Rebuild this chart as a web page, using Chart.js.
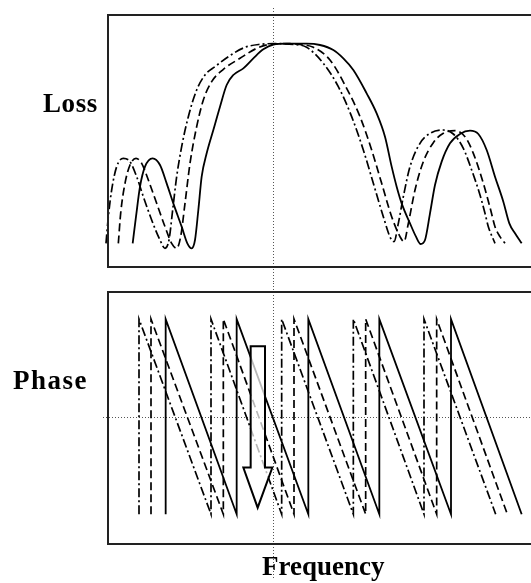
<!DOCTYPE html>
<html>
<head>
<meta charset="utf-8">
<script src="https://cdn.jsdelivr.net/npm/chart.js@4/dist/chart.umd.min.js"></script>
<style>
  html, body { margin: 0; padding: 0; background: #fff; }
  body { width: 531px; height: 583px; overflow: hidden; position: relative; }
  canvas { position: absolute; left: 0; }
  #cLoss { top: 0; }
  #cPhase { top: 283px; }
  .lbl { position: absolute; font-family: "Liberation Serif", "Times New Roman", serif; font-weight: bold;
         font-size: 27px; line-height: 27px; color: #000; white-space: nowrap; z-index: 2; }
</style>
</head>
<body>
<canvas id="cLoss" width="545" height="283"></canvas>
<canvas id="cPhase" width="545" height="300"></canvas>
<div class="lbl" style="left:43px; top:90px; letter-spacing:0.6px;">Loss</div>
<div class="lbl" style="left:13px; top:367px; letter-spacing:1.5px;">Phase</div>
<div class="lbl" style="left:262px; top:553px;">Frequency</div>
<script>
// ---- Data (frequency in arbitrary units, loss in arbitrary units, phase in degrees) ----
const centerFreq = 518;
const phaseRef = 0;

const freqLossSolid   = [98,108,120,135,158,180,200,220,245,262,275,285,295,305,320,340,360,380,400,430,460,490,520,560,620,660,700,730,760,800,830,855,875,890,905,930,948,962,975,990,1005,1025,1050,1080,1110,1135,1160,1185,1210,1228,1245,1265];
const lossSolid       = [71,151,241,301,326,306,251,191,121,71,56,81,171,271,341,411,481,546,576,596,626,653,667,670,670,666,651,626,591,521,461,391,301,241,191,131,91,69,81,161,246,316,371,399,409,399,351,271,196,131,101,71];

const freqLossDashed  = [55,62,75,90,108,125,145,170,195,215,230,242,255,270,290,310,335,370,420,470,510,560,600,640,690,740,780,815,845,875,900,912,925,945,970,1000,1030,1065,1095,1120,1150,1172,1185,1200,1215];
const lossDashed      = [71,161,251,306,326,311,261,191,121,71,56,91,191,311,421,501,556,593,626,656,668,670,668,659,621,536,451,351,251,151,91,76,131,231,316,373,401,409,391,341,251,171,121,91,71];

const freqLossDashDot = [18,25,35,50,70,90,110,130,155,180,195,207,218,230,245,265,290,315,345,385,435,480,520,580,620,670,715,755,790,820,850,872,882,895,910,930,960,990,1030,1060,1090,1115,1140,1155,1165,1185];
const lossDashDot     = [71,151,231,301,326,316,271,211,141,81,56,81,171,271,361,451,531,576,601,631,659,668,670,668,659,611,541,451,351,251,151,86,76,131,211,301,371,401,411,399,356,291,216,161,121,71];

const freqPhaseSolid   = [197,197,410,410,625,625,838,838,1053,1053,1265];
const phaseSolid       = [-180,180,-180,180,-180,180,-180,180,-180,180,-180];
const freqPhaseDashed  = [153,153,370,370,582,582,797,797,1010,1010,1222];
const phaseDashed      = [-180,180,-180,180,-180,180,-180,180,-180,180,-180];
const freqPhaseDashDot = [117,117,333,333,545,545,760,760,972,972,1187];
const phaseDashDot     = [-180,180,-180,180,-180,180,-180,180,-180,180,-180];

// Arrow annotation (frequency, phase)
const arrowShaftX = [452, 495];
const arrowHeadX  = [430, 517];
const arrowTipX   = 473;
const arrowTop    = 130;
const arrowShaftBottom = -94;
const arrowTip    = -168;

function pts(xs, ys) { return xs.map((x, i) => ({ x: x, y: ys[i] })); }

const DASH = [8, 4];
const DASHDOT = [9, 3, 2, 3];

function ds(xs, ys, dash, smooth, w) {
  return {
    data: pts(xs, ys),
    borderColor: '#000',
    borderWidth: w,
    borderDash: dash,
    pointRadius: 0,
    fill: false,
    tension: smooth ? 0.4 : 0,
    cubicInterpolationMode: smooth ? 'monotone' : 'default',
    clip: false
  };
}

const framePlugin = {
  id: 'frame',
  beforeDatasetsDraw(chart, args, opts) {
    const ctx = chart.ctx, a = chart.chartArea, xs = chart.scales.x, ys = chart.scales.y;
    ctx.save();
    ctx.strokeStyle = '#555';
    ctx.lineWidth = 1;
    ctx.setLineDash([1, 2]);
    const cx = Math.round(xs.getPixelForValue(centerFreq)) + 0.5;
    ctx.beginPath();
    ctx.moveTo(cx, opts.vTop);
    ctx.lineTo(cx, opts.vBottom);
    ctx.stroke();
    if (opts.hRef) {
      const hy = Math.round(ys.getPixelForValue(phaseRef)) + 0.5;
      ctx.beginPath();
      ctx.moveTo(103, hy);
      ctx.lineTo(chart.width, hy);
      ctx.stroke();
    }
    ctx.restore();
  },
  afterDatasetsDraw(chart, args, opts) {
    const ctx = chart.ctx, a = chart.chartArea, xs = chart.scales.x, ys = chart.scales.y;
    ctx.save();
    if (opts.arrow) {
      const X = v => xs.getPixelForValue(v), Y = v => ys.getPixelForValue(v);
      ctx.beginPath();
      ctx.moveTo(X(arrowShaftX[0]), Y(arrowTop));
      ctx.lineTo(X(arrowShaftX[1]), Y(arrowTop));
      ctx.lineTo(X(arrowShaftX[1]), Y(arrowShaftBottom));
      ctx.lineTo(X(arrowHeadX[1]), Y(arrowShaftBottom));
      ctx.lineTo(X(arrowTipX), Y(arrowTip));
      ctx.lineTo(X(arrowHeadX[0]), Y(arrowShaftBottom));
      ctx.lineTo(X(arrowShaftX[0]), Y(arrowShaftBottom));
      ctx.closePath();
      ctx.fillStyle = 'rgba(255,255,255,0.72)';
      ctx.fill();
      ctx.setLineDash([]);
      ctx.strokeStyle = '#000';
      ctx.lineWidth = 2;
      ctx.stroke();
    }
    ctx.setLineDash([]);
    ctx.strokeStyle = '#222';
    ctx.lineWidth = 2;
    ctx.strokeRect(a.left, a.top, a.right - a.left, a.bottom - a.top);
    ctx.restore();
  }
};

function baseOptions(yMin, yMax, pad, frameOpts) {
  return {
    responsive: false,
    animation: false,
    events: [],
    layout: { padding: pad },
    plugins: { legend: { display: false }, tooltip: { enabled: false }, frame: frameOpts },
    scales: {
      x: { type: 'linear', min: 24, max: 1305, display: false },
      y: { type: 'linear', min: yMin, max: yMax, display: false }
    }
  };
}

new Chart(document.getElementById('cLoss'), {
  type: 'line',
  data: { datasets: [
    ds(freqLossDashDot, lossDashDot, DASHDOT, true, 1.7),
    ds(freqLossDashed, lossDashed, DASH, true, 1.7),
    ds(freqLossSolid, lossSolid, [], true, 1.8)
  ] },
  options: baseOptions(0, 756, { left: 108, right: 10, top: 15, bottom: 16 }, { vTop: 8, vBottom: 283, hRef: false, arrow: false }),
  plugins: [framePlugin]
});

new Chart(document.getElementById('cPhase'), {
  type: 'line',
  data: { datasets: [
    ds(freqPhaseDashDot, phaseDashDot, DASHDOT, false, 1.7),
    ds(freqPhaseDashed, phaseDashed, DASH, false, 1.7),
    ds(freqPhaseSolid, phaseSolid, [], false, 1.8)
  ] },
  options: baseOptions(-235, 230, { left: 108, right: 10, top: 9, bottom: 39 }, { vTop: 0, vBottom: 295, hRef: true, arrow: true }),
  plugins: [framePlugin]
});
</script>
</body>
</html>
